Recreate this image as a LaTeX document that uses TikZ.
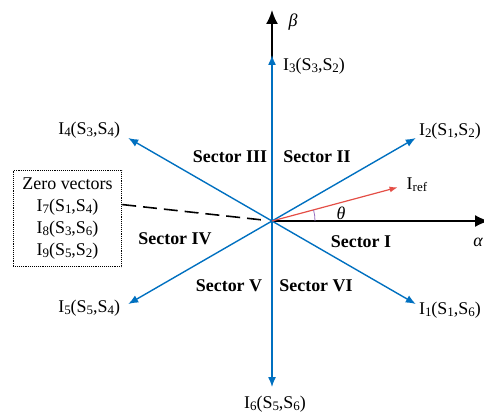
\documentclass[tikz,border=0pt]{standalone}
\usepackage{fontspec}
\setmainfont{Liberation Serif}
\usetikzlibrary{positioning,calc,arrows.meta}
\definecolor{vecblue}{RGB}{0,112,192}
\definecolor{refred}{RGB}{228,78,70}
\definecolor{arcpurple}{RGB}{150,110,190}
\tikzset{>={Latex[length=10pt,width=8pt]}}
\tikzset{
  vec/.style={->, vecblue, line width=1.4pt},
  axisline/.style={-{Latex[length=14pt,width=12pt]}, line width=1.8pt},
  sector/.style={font=\fontsize{18}{22}\selectfont\bfseries},
  lbl/.style={inner sep=1pt},
}
\newcommand{\lowsub}[1]{\raisebox{-0.28ex}{\fontsize{13}{13}\selectfont #1}}
\newcommand{\Ivec}[3]{I\lowsub{#1}(S\lowsub{#2},S\lowsub{#3})}

\begin{document}
\begin{tikzpicture}[x=1bp, y=1bp, font=\fontsize{18}{22}\selectfont]
  \useasboundingbox (0,0) rectangle (484,-415);
  \coordinate (O) at (272,-221);
  % axes
  \draw[axisline] (O) -- (489,-221) coordinate (alpha);
  \draw[axisline] (O) -- (272,-10) coordinate (beta);
  \node[lbl] (alab) at (478,-242) {\itshape α};
  \node[lbl] (blab) at (293,-22) {\itshape β};
  % active vectors
  \foreach \n/\ang in {1/-30, 2/30, 3/90, 4/150, 5/210, 6/270}
    \draw[vec] (O) -- ++(\ang:166) coordinate (I\n);
  \node[lbl, anchor=east] (l1) at (482,-310) {\Ivec{1}{1}{6}};
  \node[lbl, anchor=east] (l2) at (482,-131) {\Ivec{2}{1}{2}};
  \node[lbl, anchor=west] (l3) at ([xshift=10, yshift=-11]I3) {\Ivec{3}{3}{2}};
  \node[lbl, anchor=east] (l4) at ([xshift=-7, yshift=8]I4) {\Ivec{4}{3}{4}};
  \node[lbl, anchor=east] (l5) at ([xshift=-7, yshift=-4]I5) {\Ivec{5}{5}{4}};
  \node[lbl, anchor=north] (l6) at ([xshift=3, yshift=-8]I6) {\Ivec{6}{5}{6}};
  % reference vector
  \draw[-{Latex[length=8pt,width=6pt]}, refred, line width=1.2pt] (O) -- ++(15:130) coordinate (Iref);
  \node[lbl, anchor=west] (lref) at ([xshift=8, yshift=3]Iref) {I\lowsub{ref}};
  \draw[arcpurple, line width=0.8pt] ([shift={(0:43)}]O) arc (0:15:43);
  \node[lbl] (theta) at (341,-213) {\itshape θ};
  % sectors
  \node[sector] (s1) at (361,-242) {Sector I};
  \node[sector] (s2) at (317,-157) {Sector II};
  \node[sector] (s3) at (230,-157) {Sector III};
  \node[sector] (s4) at (175,-239) {Sector IV};
  \node[sector] (s5) at (229,-286) {Sector V};
  \node[sector] (s6) at (316,-286) {Sector VI};
  % zero vectors
  \node[draw, densely dotted, line width=0.9pt, minimum width=109, minimum height=97,
    align=center, inner sep=2pt] (zero) at (67.5,-218.5)
    {Zero vectors\\ \Ivec{7}{1}{4}\\ \Ivec{8}{3}{6}\\ \Ivec{9}{5}{2}};
  \draw[line width=1.6pt, dash pattern=on 14pt off 7pt, shorten >=6pt]
    ([yshift=14]zero.east) -- (O);
\end{tikzpicture}
\end{document}
